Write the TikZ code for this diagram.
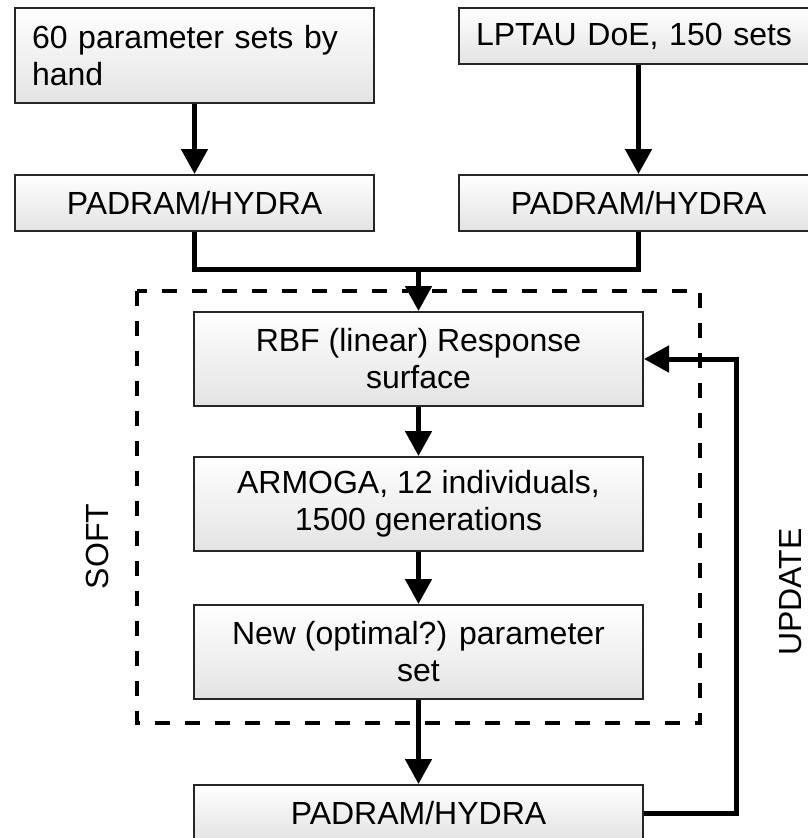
\documentclass[tikz,border=0pt]{standalone}
\usepackage{fontspec}
\setmainfont{Liberation Sans}
\usetikzlibrary{arrows.meta}
\begin{document}
\begin{tikzpicture}[x=1pt,y=-1pt,
  box/.style={draw=black!85, line width=2pt, top color=white, bottom color=black!11,
    font=\fontsize{32}{37}\selectfont, inner xsep=0pt, inner ysep=0pt, align=center},
  leftbox/.style={box, align=left, text width=325pt, inner xsep=17pt, minimum width=359pt},
  topbox/.style={box, minimum width=359pt, minimum height=56pt},
  midbox/.style={box, minimum width=449pt, minimum height=94pt},
  line/.style={line width=5pt},
  conn/.style={line, -{Triangle[length=25pt,width=26pt]}},
  frame/.style={line width=4.5pt, dash pattern=on 15pt off 15pt},
  sidelabel/.style={font=\fontsize{32}{37}\selectfont, rotate=90, inner sep=0pt}
]
\useasboundingbox (0,0) rectangle (807,838);

% top row
\node[leftbox, minimum height=95pt] (b1) at (194.5,55.5) {60 parameter sets by\\hand};
\node[leftbox, minimum height=56pt] (b2) at (638.5,36) {LPTAU DoE, 150 sets};
\node[topbox] (p1) at (194.5,203) {PADRAM/HYDRA};
\node[topbox] (p2) at (638.5,203) {PADRAM/HYDRA};

% middle column
\node[midbox] (rbf) at (418.5,359) {RBF (linear) Response\\surface};
\node[midbox] (arm) at (418.5,504) {ARMOGA, 12 individuals,\\1500 generations};
\node[midbox] (new) at (418.5,652) {New (optimal?) parameter\\set};
\node[box, minimum width=449pt, minimum height=56pt] (p3) at (418.5,813) {PADRAM/HYDRA};

% dashed frame
\coordinate (f1) at (137,291);
\coordinate (f2) at (700,723);
\draw[frame] (f1) rectangle (f2);

% labels
\node[sidelabel] (soft) at (97.5,546.5) {SOFT};
\node[sidelabel] (upd) at (790.5,592) {UPDATE};

% connectors
\draw[conn] (b1) -- (p1);
\draw[conn] (b2) -- (p2);
\coordinate (m) at (418.5,269);
\draw[conn] (p1.south) |- (m) -- (rbf.north);
\draw[line] (p2.south) |- (m);
\draw[conn] (rbf) -- (arm);
\draw[conn] (arm) -- (new);
\draw[conn] (new) -- (p3);
\coordinate (fb) at (736.5,813);
\draw[conn] (p3.east) -- (fb) |- (rbf.east);
\end{tikzpicture}
\end{document}
